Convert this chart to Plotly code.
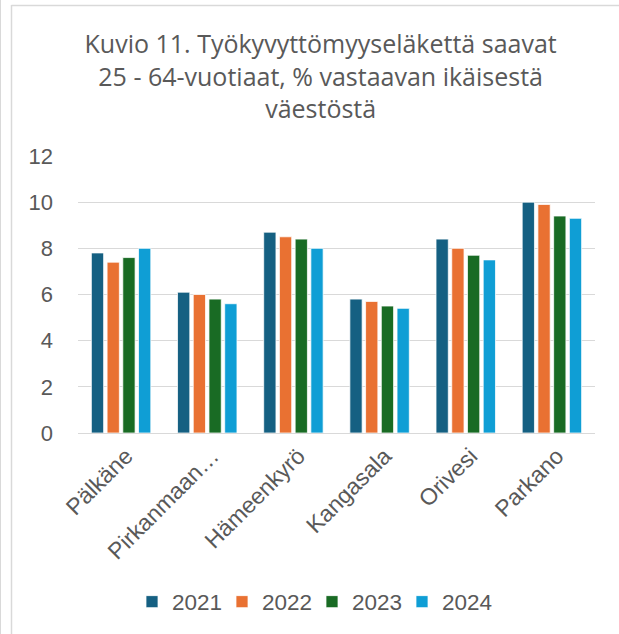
import plotly.graph_objects as go

categories = ["Pälkäne", "Pirkanmaan…", "Hämeenkyrö", "Kangasala", "Orivesi", "Parkano"]
years = ["2021", "2022", "2023", "2024"]
v2021 = [7.8, 6.1, 8.7, 5.8, 8.4, 10.0]
v2022 = [7.4, 6.0, 8.5, 5.7, 8.0, 9.9]
v2023 = [7.6, 5.8, 8.4, 5.5, 7.7, 9.4]
v2024 = [8.0, 5.6, 8.0, 5.4, 7.5, 9.3]
series = [v2021, v2022, v2023, v2024]
colors = ["#156082", "#E97132", "#196B24", "#0F9ED5"]
y_ticks = [0, 2, 4, 6, 8, 10, 12]
title_text = "Kuvio 11. Työkyvyttömyyseläkettä saavat<br>25 - 64-vuotiaat, % vastaavan ikäisestä<br>väestöstä"

fig = go.Figure()
for name, vals, col in zip(years, series, colors):
    fig.add_trace(go.Bar(x=categories, y=vals, name=name,
                         marker=dict(color=col, line=dict(color="white", width=0.75))))

W, H = 619, 634
L, R, T, B = 78, 24, 156, 201
pw = W - L - R
ph = H - T - B

def px2paper_x(px):
    return (px - L) / pw

def px2paper_y(py):
    return (H - B - py) / ph

fig.update_layout(
    width=W, height=H,
    margin=dict(l=L, r=R, t=T, b=B, autoexpand=False),
    paper_bgcolor="white", plot_bgcolor="white",
    barmode="group", bargap=0.27, bargroupgap=0.22,
    font=dict(family="Liberation Sans, Arial, sans-serif", color="#595959", size=22),
    title=dict(text=title_text, x=0.518, xanchor="center", y=1 - 53 / H, yanchor="top",
               font=dict(family="Open Sans, Liberation Sans, sans-serif",
                         size=25, color="#595959")),
    xaxis=dict(tickangle=-45, showgrid=False, showline=False, ticks="",
               tickfont=dict(size=23, color="#595959"),
               ticklabelshift=5, ticklabelstandoff=4),
    yaxis=dict(range=[0, 12], tickvals=y_ticks, showgrid=True, gridcolor="#D9D9D9", gridwidth=1,
               zeroline=True, zerolinecolor="#D9D9D9", zerolinewidth=1, ticks="",
               tickfont=dict(size=22, color="#595959"), ticklabelstandoff=24),
    legend=dict(orientation="h", x=px2paper_x(132), xanchor="left", y=px2paper_y(602), yanchor="middle",
                font=dict(size=22.5, color="#595959"), itemwidth=30, traceorder="normal",
                entrywidth=45, entrywidthmode="pixels"),
    showlegend=True,
    shapes=[
        dict(type="line", xref="paper", yref="paper", x0=px2paper_x(0.5), x1=px2paper_x(0.5),
             y0=px2paper_y(0), y1=px2paper_y(H), line=dict(color="#D9D9D9", width=1)),
        dict(type="line", xref="paper", yref="paper", x0=px2paper_x(11.5), x1=px2paper_x(11.5),
             y0=px2paper_y(5), y1=px2paper_y(H), line=dict(color="#D9D9D9", width=1.5)),
        dict(type="line", xref="paper", yref="paper", x0=px2paper_x(11.5), x1=px2paper_x(W),
             y0=px2paper_y(5.5), y1=px2paper_y(5.5), line=dict(color="#D9D9D9", width=1.5)),
    ],
)

fig.write_html("out.html", config={"displayModeBar": False},
               post_script="document.body.style.margin='0';document.body.style.overflow='hidden';")
